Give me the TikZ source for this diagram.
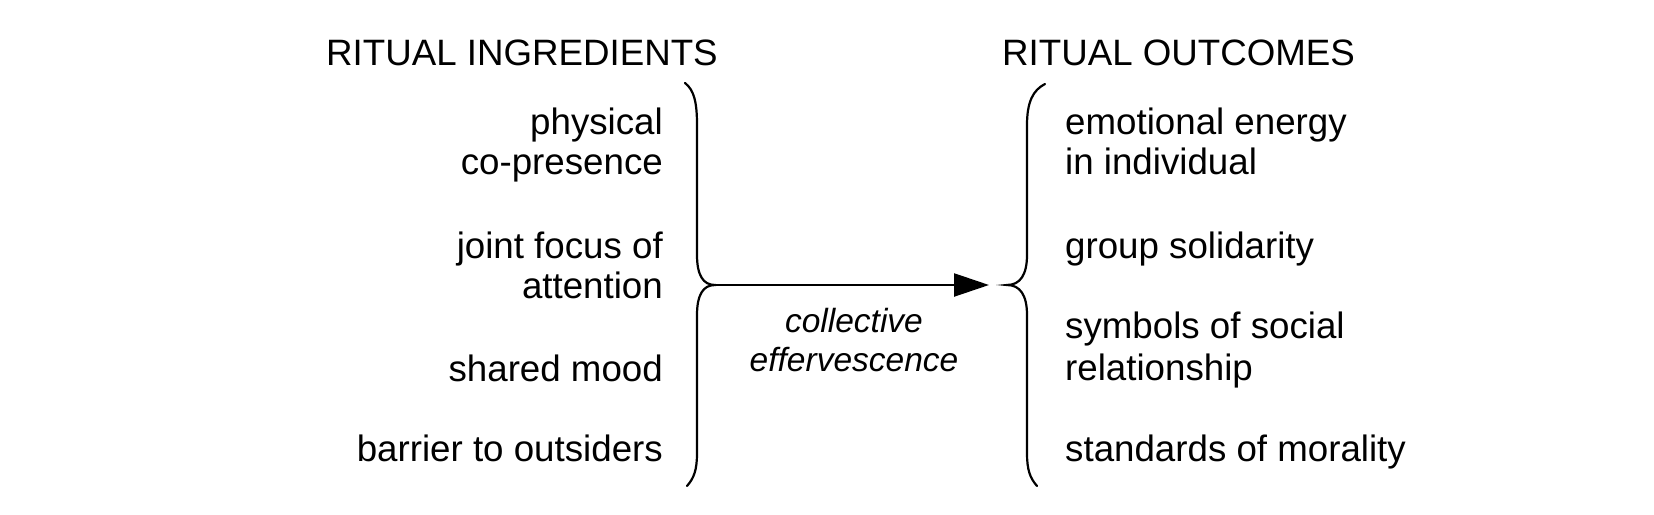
\documentclass[tikz,border=0pt]{standalone}
\usepackage{fontspec}
\setmainfont{Liberation Sans}
\usetikzlibrary{arrows.meta}
\begin{document}
\begin{tikzpicture}[x=1pt,y=-1pt,
  lbl/.style={inner sep=0pt,font=\fontsize{36.7}{40}\selectfont},
  ital/.style={inner sep=0pt,font=\fontsize{33.5}{38}\selectfont\itshape},
  brace/.style={line width=2.2pt,line cap=round},
  flow/.style={line width=2.4pt,-{Triangle[length=35pt,width=23pt]}}]
\useasboundingbox[fill=white] (0,0) rectangle (1654,514);
% headers
\node[lbl,anchor=base west] (hin) at (326,65) {RITUAL INGREDIENTS};
\node[lbl,anchor=base west] (hout) at (1002,65) {RITUAL OUTCOMES};
% ingredients
\node[lbl,anchor=base east] (i1a) at (663,134.3) {physical\ };
\node[lbl,anchor=base east] (i1b) at (663,174.3) {co-presence};
\node[lbl,anchor=base east] (i2a) at (663,258.3) {joint focus of\ };
\node[lbl,anchor=base east] (i2b) at (663,298.3) {attention};
\node[lbl,anchor=base east] (i3) at (663,381.7) {shared mood};
\node[lbl,anchor=base east] (i4) at (663,461.7) {barrier to outsiders};
% outcomes
\node[lbl,anchor=base west] (o1a) at (1065,134.3) {emotional energy};
\node[lbl,anchor=base west] (o1b) at (1065,174.3) {in individual};
\node[lbl,anchor=base west] (o2) at (1065,258.3) {group solidarity};
\node[lbl,anchor=base west] (o3a) at (1065,338) {symbols of social};
\node[lbl,anchor=base west] (o3b) at (1065,380) {relationship};
\node[lbl,anchor=base west] (o4) at (1065,461.7) {standards of morality};
% middle label
\node[ital,anchor=base] (m1) at (854,332.7) {collective};
\node[ital,anchor=base] (m2) at (854,371.7) {effervescence};
% braces
\coordinate (ltip) at (715,285);
\coordinate (rtip) at (1007,285);
\coordinate (aend) at (989,285);
\draw[brace] (685,83) .. controls (694,90) and (697,102) .. (697,125)
  -- (697,255) .. controls (697,275) and (703,285) .. (ltip)
  .. controls (703,285) and (697,295) .. (697,315)
  -- (697,453) .. controls (697,470) and (694,478) .. (687,486);
\draw[brace] (1045,84) .. controls (1033,90) and (1027,102) .. (1027,125)
  -- (1027,255) .. controls (1027,275) and (1020,285) .. (rtip)
  .. controls (1020,285) and (1027,295) .. (1027,315)
  -- (1027,453) .. controls (1027,470) and (1030,478) .. (1037,486);
% arrow
\draw[flow] (ltip) -- (aend);
\end{tikzpicture}
\end{document}
